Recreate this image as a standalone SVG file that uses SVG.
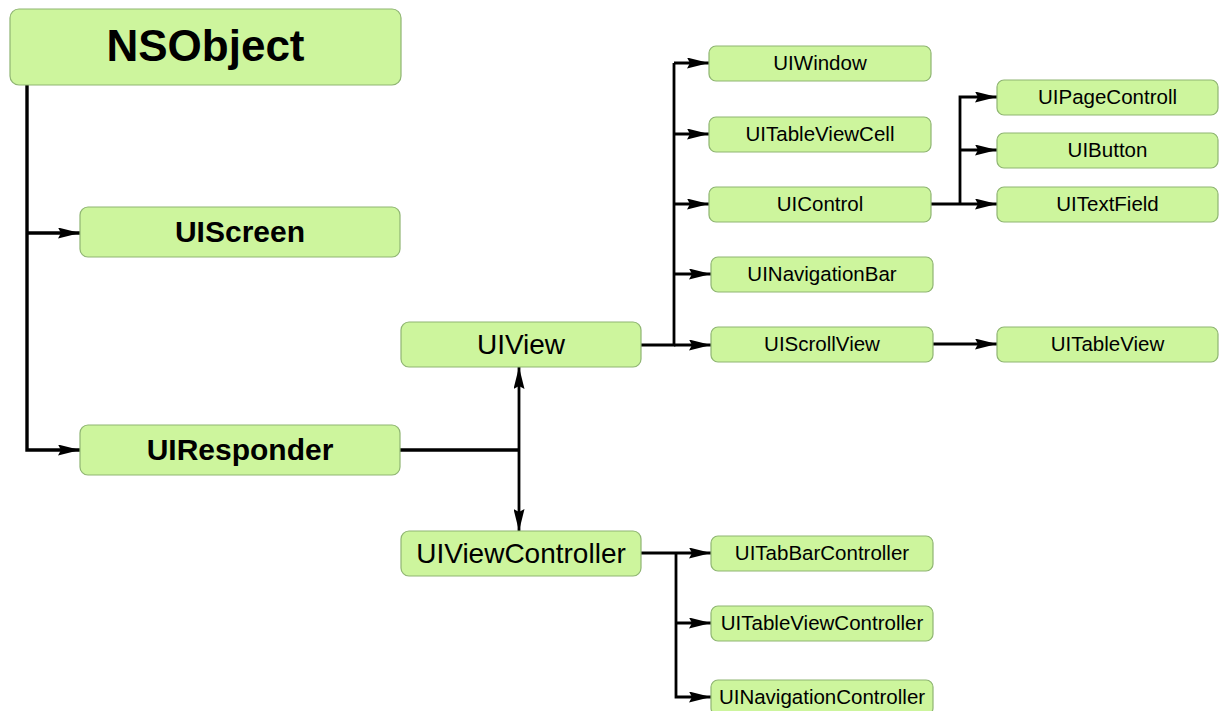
<svg xmlns="http://www.w3.org/2000/svg" width="1227" height="711" viewBox="0 0 1227 711">
  <style>
    .box { fill: #cdf59d; stroke: #8fb572; stroke-width: 1.2; }
    .lbl { font-family: "Liberation Sans", Arial, sans-serif; fill: #000; text-anchor: middle; }
    .big { font-size: 44px; font-weight: bold; }
    .bold { font-size: 30px; font-weight: bold; }
    .mid { font-size: 28px; }
    .small { font-size: 20.5px; }
    .wire { fill: none; stroke: #000; stroke-width: 2.8; stroke-linejoin: miter; }
    .thick { stroke-width: 3.4; }
  </style>
  <defs>
    <marker id="arrow" viewBox="0 0 22 11" markerUnits="userSpaceOnUse" markerWidth="22" markerHeight="11" refX="22" refY="5.5" orient="auto">
      <path d="M0,0 L22,5.5 L0,11 L3,5.5 z" fill="#000"/>
    </marker>
  </defs>

  <rect width="1227" height="711" fill="#fff"/>

  <!-- connectors -->
  <g id="connectors">
    <path class="wire thick" d="M27,85 V450 H80" marker-end="url(#arrow)"/>
    <path class="wire thick" d="M27,233 H80" marker-end="url(#arrow)"/>

    <path class="wire thick" d="M400,450 H519"/>
    <path class="wire" d="M519,450 V367" marker-end="url(#arrow)"/>
    <path class="wire" d="M519,450 V531" marker-end="url(#arrow)"/>

    <path class="wire" d="M641,345 H674 V63"/>
    <path class="wire" d="M674,63 H709" marker-end="url(#arrow)"/>
    <path class="wire" d="M674,134 H709" marker-end="url(#arrow)"/>
    <path class="wire" d="M674,204 H709" marker-end="url(#arrow)"/>
    <path class="wire" d="M674,274 H711" marker-end="url(#arrow)"/>
    <path class="wire" d="M674,345 H711" marker-end="url(#arrow)"/>

    <path class="wire" d="M931,204 H997" marker-end="url(#arrow)"/>
    <path class="wire" d="M960,204 V97 H997" marker-end="url(#arrow)"/>
    <path class="wire" d="M960,150 H997" marker-end="url(#arrow)"/>

    <path class="wire" d="M933,344 H997" marker-end="url(#arrow)"/>

    <path class="wire" d="M641,553 H711" marker-end="url(#arrow)"/>
    <path class="wire" d="M676,553 V697 H711" marker-end="url(#arrow)"/>
    <path class="wire" d="M676,623 H711" marker-end="url(#arrow)"/>
  </g>

  <!-- class nodes -->
  <g id="NSObject">
    <rect class="box" x="10" y="9" width="391" height="76" rx="9"/>
    <text class="lbl big" x="205.5" y="61">NSObject</text>
  </g>
  <g id="UIScreen">
    <rect class="box" x="80" y="207" width="320" height="50" rx="8"/>
    <text class="lbl bold" x="240" y="242">UIScreen</text>
  </g>
  <g id="UIResponder">
    <rect class="box" x="80" y="425" width="320" height="50" rx="8"/>
    <text class="lbl bold" x="240" y="460">UIResponder</text>
  </g>
  <g id="UIView">
    <rect class="box" x="401" y="322" width="240" height="45" rx="8"/>
    <text class="lbl mid" x="521" y="354">UIView</text>
  </g>
  <g id="UIViewController">
    <rect class="box" x="401" y="531" width="240" height="45" rx="8"/>
    <text class="lbl mid" x="521" y="563">UIViewController</text>
  </g>

  <g id="UIWindow">
    <rect class="box" x="709" y="46" width="222" height="35" rx="7"/>
    <text class="lbl small" x="820" y="70">UIWindow</text>
  </g>
  <g id="UITableViewCell">
    <rect class="box" x="709" y="117" width="222" height="35" rx="7"/>
    <text class="lbl small" x="820" y="141">UITableViewCell</text>
  </g>
  <g id="UIControl">
    <rect class="box" x="709" y="187" width="222" height="35" rx="7"/>
    <text class="lbl small" x="820" y="211">UIControl</text>
  </g>
  <g id="UINavigationBar">
    <rect class="box" x="711" y="257" width="222" height="35" rx="7"/>
    <text class="lbl small" x="822" y="281">UINavigationBar</text>
  </g>
  <g id="UIScrollView">
    <rect class="box" x="711" y="327" width="222" height="35" rx="7"/>
    <text class="lbl small" x="822" y="351">UIScrollView</text>
  </g>

  <g id="UIPageControll">
    <rect class="box" x="997" y="80" width="221" height="35" rx="7"/>
    <text class="lbl small" x="1107.5" y="104">UIPageControll</text>
  </g>
  <g id="UIButton">
    <rect class="box" x="997" y="133" width="221" height="35" rx="7"/>
    <text class="lbl small" x="1107.5" y="157">UIButton</text>
  </g>
  <g id="UITextField">
    <rect class="box" x="997" y="187" width="221" height="35" rx="7"/>
    <text class="lbl small" x="1107.5" y="211">UITextField</text>
  </g>
  <g id="UITableView">
    <rect class="box" x="997" y="327" width="221" height="35" rx="7"/>
    <text class="lbl small" x="1107.5" y="351">UITableView</text>
  </g>

  <g id="UITabBarController">
    <rect class="box" x="711" y="536" width="222" height="35" rx="7"/>
    <text class="lbl small" x="822" y="560">UITabBarController</text>
  </g>
  <g id="UITableViewController">
    <rect class="box" x="711" y="606" width="222" height="35" rx="7"/>
    <text class="lbl small" x="822" y="630">UITableViewController</text>
  </g>
  <g id="UINavigationController">
    <rect class="box" x="711" y="680" width="222" height="35" rx="7"/>
    <text class="lbl small" x="822" y="704">UINavigationController</text>
  </g>
</svg>
